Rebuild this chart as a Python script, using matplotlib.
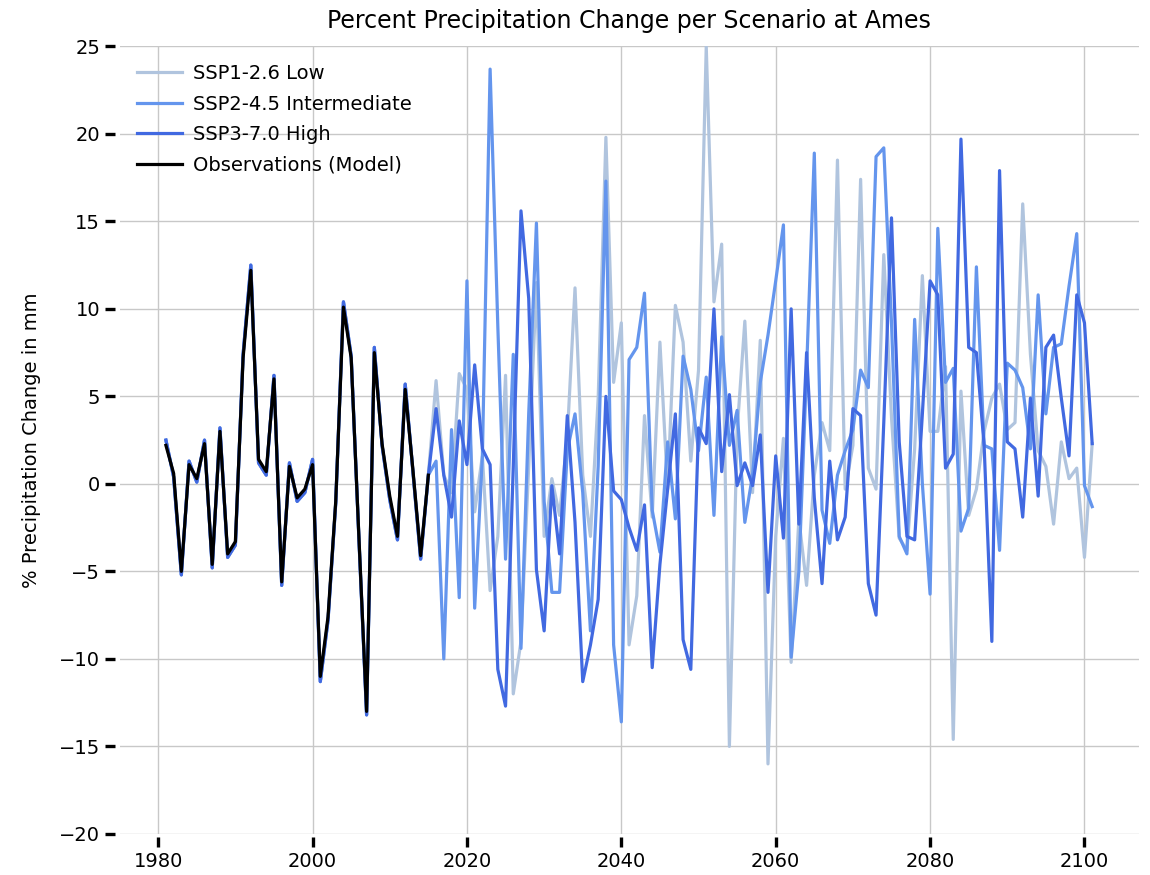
import matplotlib

matplotlib.use("Agg")
import matplotlib.pyplot as plt

# Observations (model output for the historical period), 1981-2015
obs_years = list(range(1981, 2016))
obs = [
    2.2, 0.6, -5.0, 1.1, 0.3, 2.3, -4.6, 3.0, -4.0, -3.3,
    7.2, 12.2, 1.4, 0.7, 6.0, -5.6, 1.0, -0.8, -0.3, 1.1,
    -11.0, -7.6, -1.0, 10.1, 7.2, -3.0, -13.0, 7.5, 2.3, -0.7,
    -3.0, 5.4, 0.8, -4.1, 0.5,
]

# Scenario runs share the historical part, 1981-2015
hist_model = [
    2.5, 0.4, -5.2, 1.3, 0.1, 2.5, -4.8, 3.2, -4.2, -3.5,
    7.4, 12.5, 1.2, 0.5, 6.2, -5.8, 1.2, -1.0, -0.5, 1.4,
    -11.3, -7.8, -1.1, 10.4, 7.3, -3.1, -13.2, 7.8, 2.2, -0.9,
    -3.2, 5.7, 0.7, -4.3, 0.5,
]

# Projections 2016-2101
future_years = list(range(2016, 2102))
ssp126 = [
    5.9, 0.5, -0.5, 6.3, 5.4,
    -1.6, 1.6, -6.1, -3.0, 6.2, -12.0, -9.0, 1.0, 11.5, -3.0,
    0.3, -1.8, 2.7, 11.2, 0.5, -3.0, 4.9, 19.8, 5.8, 9.2,
    -9.2, -6.4, 3.9, -1.9, 8.1, -0.3, 10.2, 8.1, 1.3, 6.5,
    25.0, 10.4, 13.7, -15.0, 3.0, 9.3, -0.5, 8.2, -16.0, -3.0,
    2.6, -10.2, -2.0, -5.8, 0.5, 3.5, 1.9, 18.5, -0.3, 2.2,
    17.4, 0.9, -0.3, 13.1, 3.8, -3.1, -3.8, 2.0, 11.9, 3.0,
    3.0, 6.7, -14.6, 5.3, -1.8, -0.3, 3.0, 4.9, 5.7, 3.1,
    3.5, 16.0, 7.4, 1.9, 1.0, -2.3, 2.4, 0.3, 0.9, -4.2,
    2.3,
]
ssp245 = [
    1.3, -10.0, 3.1, -6.5, 11.6,
    -7.1, 1.6, 23.7, 9.0, -4.3, 7.4, -9.4, 4.0, 14.9, -1.0,
    -6.2, -6.2, 1.9, 4.0, -0.5, -8.4, 1.0, 17.3, -9.2, -13.6,
    7.1, 7.8, 10.9, -1.5, -3.9, 2.4, -2.0, 7.3, 5.4, 1.9,
    6.1, -1.8, 8.4, 2.2, 4.2, -2.2, 0.5, 5.8, 8.5, 11.6,
    14.8, -9.9, -5.0, 6.5, 18.9, -1.5, -3.4, 0.5, 1.9, 3.1,
    6.5, 5.5, 18.7, 19.2, 9.2, -3.0, -4.0, 9.4, 0.0, -6.3,
    14.6, 5.8, 6.6, -2.7, -1.4, 12.4, 2.2, 2.0, -3.8, 6.9,
    6.5, 5.5, 2.0, 10.8, 4.0, 7.8, 8.0, 11.3, 14.3, -0.1,
    -1.3,
]
ssp370 = [
    4.3, 0.5, -1.9, 3.6, 1.1,
    6.8, 2.0, 1.1, -10.6, -12.7, 1.0, 15.6, 10.6, -4.9, -8.4,
    -0.1, -4.0, 3.9, -2.2, -11.3, -9.2, -6.6, 5.0, -0.4, -0.9,
    -2.5, -3.8, -1.2, -10.5, -4.6, -0.3, 4.0, -8.9, -10.6, 3.2,
    2.3, 10.0, 0.7, 5.1, -0.1, 1.2, -0.1, 2.8, -6.2, 1.6,
    -3.1, 10.0, -2.3, 7.5, -0.8, -5.7, 1.3, -3.2, -1.9, 4.3,
    3.9, -5.7, -7.5, 3.5, 15.2, 2.4, -3.0, -3.2, 4.0, 11.6,
    10.8, 0.9, 1.7, 19.7, 7.8, 7.5, 2.2, -9.0, 17.9, 2.4,
    2.0, -1.9, 4.9, -0.7, 7.8, 8.5, 4.9, 1.6, 10.8, 9.2,
    2.3,
]

model_years = obs_years + future_years
scenarios = [
    ("SSP1-2.6 Low", hist_model + ssp126, "lightsteelblue"),
    ("SSP2-4.5 Intermediate", hist_model + ssp245, "cornflowerblue"),
    ("SSP3-7.0 High", hist_model + ssp370, "royalblue"),
]

plt.rcParams.update({
    "font.family": "DejaVu Sans",
    "font.size": 14,
})

fig, ax = plt.subplots(figsize=(11.5, 8.75), dpi=100)
fig.subplots_adjust(left=0.104, right=0.99, top=0.947, bottom=0.047)

for label, values, color in scenarios:
    ax.plot(model_years, values, color=color, linewidth=2.3, label=label)
ax.plot(obs_years, obs, color="black", linewidth=2.3, label="Observations (Model)")

ax.set_ylim(-20, 25)
ax.set_yticks(range(-20, 26, 5))
ax.set_xticks(range(1980, 2101, 20))
ax.grid(True, color="#c8c8c8", linewidth=1.0)
ax.set_axisbelow(True)
# keep the edge gridlines (25 and -20) fully visible
for gl in ax.get_ygridlines():
    gl.set_clip_on(False)

for name, spine in ax.spines.items():
    spine.set_visible(False)
ax.spines["left"].set_position(("outward", 3))
ax.spines["bottom"].set_position(("outward", 2))
ax.tick_params(length=7, width=2.4, labelsize=14, pad=4)

ax.set_title("Percent Precipitation Change per Scenario at Ames", fontsize=17, pad=13)
ax.set_ylabel("% Precipitation Change in mm", fontsize=14, labelpad=13)
ax.legend(loc="upper left", frameon=False, fontsize=14, handlelength=2.3,
          handletextpad=0.6, borderaxespad=0.5, labelspacing=0.6)

fig.savefig("out.png", dpi=100)
